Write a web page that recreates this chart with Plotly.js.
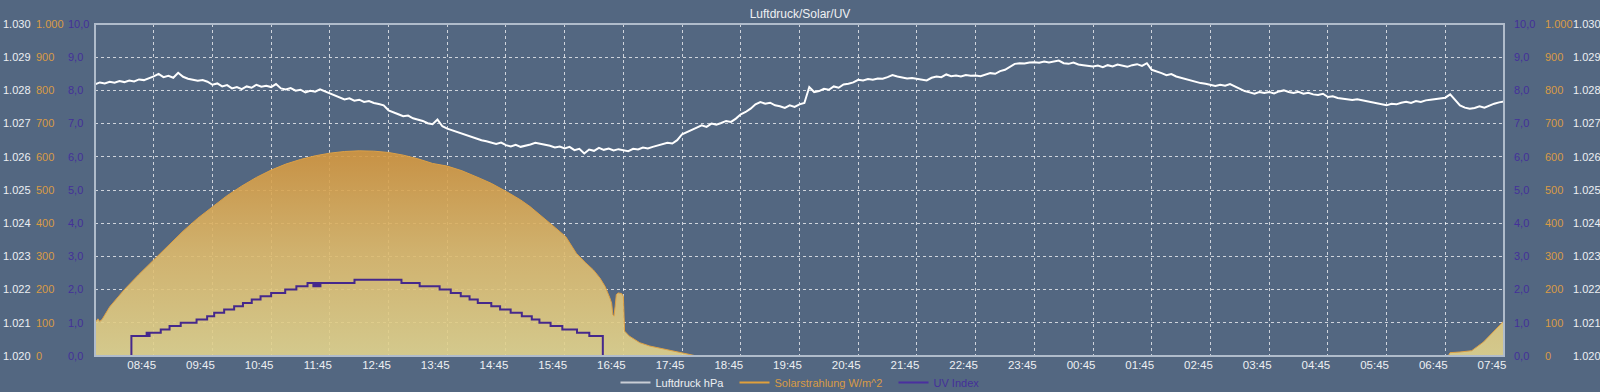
<!DOCTYPE html>
<html>
<head>
<meta charset="utf-8">
<script src="https://cdn.plot.ly/plotly-3.0.1.min.js"></script>
<style>
  html, body { margin: 0; padding: 0; background: #536781; overflow: hidden; }
  #chart { width: 1600px; height: 392px; overflow: hidden; }
</style>
</head>
<body>
<div id="chart"></div>
<script>
// ---- data ----
// x tick labels (hourly)
const xTickLabels = ['08:45','09:45','10:45','11:45','12:45','13:45','14:45','15:45','16:45','17:45','18:45','19:45',
  '20:45','21:45','22:45','23:45','00:45','01:45','02:45','03:45','04:45','05:45','06:45','07:45'];

// Luftdruck hPa, every 5 minutes from 07:45 to 07:45 next day
const pressureStartHour = 7.75;
const pressureStepMinutes = 5;
const pressure = [
1028.18,1028.24,1028.21,1028.26,1028.23,1028.28,1028.25,1028.30,1028.27,1028.33,1028.31,1028.36,
1028.42,1028.50,1028.40,1028.44,1028.38,1028.53,1028.41,1028.35,1028.33,1028.29,1028.31,1028.26,
1028.17,1028.21,1028.12,1028.16,1028.06,1028.10,1028.04,1028.12,1028.08,1028.17,1028.11,1028.14,
1028.10,1028.19,1028.06,1028.03,1028.07,1027.99,1028.02,1027.94,1027.99,1027.96,1028.03,1027.97,
1027.90,1027.84,1027.80,1027.73,1027.76,1027.69,1027.72,1027.65,1027.68,1027.62,1027.59,1027.55,
1027.40,1027.33,1027.28,1027.22,1027.24,1027.16,1027.12,1027.08,1027.01,1026.98,1027.12,1026.92,
1026.85,1026.80,1026.74,1026.69,1026.65,1026.60,1026.55,1026.50,1026.47,1026.44,1026.39,1026.43,
1026.35,1026.31,1026.36,1026.30,1026.33,1026.37,1026.42,1026.38,1026.36,1026.33,1026.28,1026.31,
1026.25,1026.30,1026.20,1026.24,1026.10,1026.22,1026.18,1026.27,1026.21,1026.25,1026.19,1026.23,
1026.20,1026.17,1026.24,1026.22,1026.28,1026.25,1026.30,1026.34,1026.38,1026.42,1026.40,1026.50,
1026.68,1026.74,1026.82,1026.88,1026.95,1026.90,1027.00,1026.97,1027.02,1027.08,1027.05,1027.15,
1027.28,1027.35,1027.45,1027.58,1027.65,1027.60,1027.63,1027.55,1027.52,1027.47,1027.55,1027.50,
1027.58,1027.62,1028.10,1027.95,1027.98,1028.05,1028.02,1028.12,1028.08,1028.18,1028.20,1028.24,
1028.32,1028.30,1028.34,1028.32,1028.36,1028.35,1028.40,1028.46,1028.42,1028.38,1028.36,1028.37,
1028.35,1028.33,1028.30,1028.38,1028.42,1028.40,1028.48,1028.43,1028.45,1028.42,1028.46,1028.44,
1028.45,1028.43,1028.48,1028.52,1028.50,1028.58,1028.62,1028.70,1028.80,1028.82,1028.81,1028.84,
1028.85,1028.83,1028.87,1028.84,1028.86,1028.90,1028.82,1028.80,1028.84,1028.78,1028.76,1028.74,
1028.72,1028.75,1028.70,1028.76,1028.72,1028.78,1028.74,1028.71,1028.76,1028.79,1028.74,1028.82,
1028.62,1028.58,1028.52,1028.46,1028.49,1028.42,1028.38,1028.33,1028.30,1028.26,1028.22,1028.20,
1028.16,1028.13,1028.17,1028.14,1028.19,1028.12,1028.03,1027.98,1027.94,1027.90,1027.95,1027.92,
1027.95,1027.91,1027.97,1028.00,1027.95,1027.92,1027.96,1027.90,1027.93,1027.88,1027.86,1027.90,
1027.80,1027.82,1027.77,1027.75,1027.73,1027.71,1027.73,1027.70,1027.68,1027.64,1027.60,1027.58,
1027.55,1027.60,1027.58,1027.63,1027.66,1027.62,1027.68,1027.65,1027.70,1027.72,1027.74,1027.77,
1027.78,1027.88,1027.70,1027.55,1027.48,1027.45,1027.47,1027.52,1027.48,1027.55,1027.60,1027.64,
1027.67];

// Solarstrahlung W/m^2 (hours since midnight of day 1)
const solarHours = [7.75,7.80,7.83,7.87,8.0,8.25,8.5,8.75,9.0,9.25,9.5,9.75,10.0,10.25,10.5,10.75,11.0,11.25,11.5,11.75,
  12.0,12.25,12.5,12.75,13.0,13.25,13.5,13.75,14.0,14.31,14.5,14.76,15.0,15.16,15.44,15.6,15.77,15.95,16.1,16.24,16.35,
  16.44,16.52,16.55,16.57,16.59,16.61,16.63,16.66,16.72,16.75,16.77,16.85,17.03,17.2,17.37,17.55,17.76,17.9,18.0,
  30.8,30.83,31.0,31.2,31.4,31.6,31.75];
const solar = [100,112,104,110,148,200,246,290,334,376,415,450,483,512,538,560,578,592,603,611,
  616,618,617,613,605,594,580,572,558,535,520,495,470,450,410,385,359,309,282,259,235,
  209,175,159,125,120,150,185,190,188,180,75,60,40,30,24,16,9,3,0,
  0,10,12,16,42,78,106];

// UV Index (step changes, hours since midnight of day 1)
const uvHours = [7.75,8.37,8.63,8.66,8.68,8.87,9.02,9.21,9.48,9.66,9.78,9.95,10.12,10.27,10.42,10.57,10.75,10.99,11.18,11.37,
  11.47,11.49,11.52,11.54,11.57,11.59,12.17,12.97,13.28,13.62,13.81,13.98,14.13,14.27,14.50,14.65,14.83,15.02,15.19,15.32,
  15.51,15.71,15.96,16.17,16.40,31.75];
const uv = [0,0.6,0.7,0.6,0.7,0.8,0.9,1.0,1.1,1.2,1.3,1.4,1.5,1.6,1.7,1.8,1.9,2.0,2.1,2.2,
  2.1,2.2,2.1,2.2,2.1,2.2,2.3,2.2,2.1,2.0,1.9,1.8,1.7,1.6,1.5,1.4,1.3,1.2,1.1,1.0,
  0.9,0.8,0.7,0.6,0,0];

// ---- helpers ----
function hToDate(h) {
  const ms = Date.UTC(2024, 5, 1) + Math.round(h * 3600000);
  return new Date(ms).toISOString().slice(0, 19).replace('T', ' ');
}
const pressureX = pressure.map((_, i) => hToDate(pressureStartHour + i * pressureStepMinutes / 60));
const solarX = solarHours.map(hToDate);
const uvX = uvHours.map(hToDate);
const tickVals = xTickLabels.map((lab, i) => hToDate(8.75 + i));

const BG = '#536781';
const FONT = "'Liberation Sans', Arial, sans-serif";
const C_P = '#eceff3';
const C_S = '#d99b45';
const C_U = '#44309a';
const GRID = 'rgba(255,255,255,0.72)';
const BORDER = '#b0bccb';

const traces = [
  { x: solarX, y: solar, yaxis: 'y2', type: 'scatter', mode: 'lines', fill: 'tozeroy',
    line: { color: '#dda045', width: 1 },
    fillgradient: { type: 'vertical', start: 0, stop: 620,
      colorscale: [[0, 'rgba(226,212,142,0.9)'], [0.5, 'rgba(222,186,108,0.9)'], [1, 'rgba(212,150,62,0.9)']] },
    showlegend: false, hoverinfo: 'skip' },
  { x: solarX, y: solar, yaxis: 'y5', type: 'scatter', mode: 'lines', opacity: 0, showlegend: false, hoverinfo: 'skip' },
  { x: uvX, y: uv, yaxis: 'y3', type: 'scatter', mode: 'lines', line: { color: '#45288c', width: 2, shape: 'hv' },
    showlegend: false, hoverinfo: 'skip' },
  { x: uvX, y: uv, yaxis: 'y6', type: 'scatter', mode: 'lines', opacity: 0, showlegend: false, hoverinfo: 'skip' },
  { x: pressureX, y: pressure, yaxis: 'y', type: 'scatter', mode: 'lines', line: { color: '#ffffff', width: 2 },
    showlegend: false, hoverinfo: 'skip' },
  { x: pressureX, y: pressure, yaxis: 'y4', type: 'scatter', mode: 'lines', opacity: 0, showlegend: false, hoverinfo: 'skip' },
  { x: [null], y: [null], yaxis: 'y', type: 'scatter', mode: 'lines', line: { color: '#c9ced6', width: 2 },
    name: '<span style="color:' + C_P + '">Luftdruck hPa</span>  ' },
  { x: [null], y: [null], yaxis: 'y', type: 'scatter', mode: 'lines', line: { color: '#e0a03c', width: 2 },
    name: '<span style="color:' + C_S + '">Solarstrahlung W/m^2</span>  ' },
  { x: [null], y: [null], yaxis: 'y', type: 'scatter', mode: 'lines', line: { color: '#4a2fa0', width: 2 },
    name: '<span style="color:' + C_U + '">UV Index</span>' }
];

function yAx(range, dtick, fmt, color, pos, extra) {
  return Object.assign({
    range: range, dtick: dtick, tick0: range[0], tickformat: fmt, autorange: false,
    side: 'right', anchor: 'free', position: pos, overlaying: 'y',
    showgrid: false, zeroline: false, showline: false, ticks: '',
    tickfont: { family: FONT, size: 11, color: color }, fixedrange: true
  }, extra || {});
}

const yaxisMain = yAx([1020, 1030], 1, ',d', C_P, 2 / 1600, {
  showgrid: true, gridcolor: GRID, griddash: 'dot', gridwidth: 1, domain: [36 / 392, 1 - 24 / 392]
});
delete yaxisMain.overlaying;

const layout = {
  autosize: false,
  width: 1600, height: 392,
  paper_bgcolor: BG, plot_bgcolor: BG,
  margin: { l: 0, r: 0, t: 0, b: 0, pad: 0, autoexpand: false },
  separators: ',.',
  font: { family: FONT, size: 11, color: C_P },
  title: { text: 'Luftdruck/Solar/UV', font: { family: FONT, size: 12, color: '#eef0f3' },
    x: 0.5, xref: 'container', y: 1 - 13.5 / 392, yref: 'container', yanchor: 'middle', xanchor: 'center',
    automargin: false },
  showlegend: true,
  legend: { orientation: 'h', x: 0.5, xref: 'container', xanchor: 'center', y: 9.5 / 392, yref: 'container',
    yanchor: 'middle', bgcolor: 'rgba(0,0,0,0)', font: { family: FONT, size: 11 }, itemwidth: 30, tracegroupgap: 0 },
  xaxis: {
    type: 'date', range: [hToDate(7.75), hToDate(31.75)], domain: [95 / 1600, 1504 / 1600],
    anchor: 'y', tickmode: 'array', tickvals: tickVals, ticktext: xTickLabels,
    showgrid: true, gridcolor: GRID, griddash: 'dot', gridwidth: 1,
    zeroline: false, showline: false, ticks: '', ticklabelshift: -12,
    tickfont: { family: FONT, size: 11.5, color: C_P }, fixedrange: true
  },
  yaxis: yaxisMain,
  yaxis2: yAx([0, 1000], 100, ',d', C_S, 35 / 1600),
  yaxis3: yAx([0, 10], 1, '.1f', C_U, 67 / 1600),
  yaxis4: yAx([1020, 1030], 1, ',d', C_P, 1572 / 1600),
  yaxis5: yAx([0, 1000], 100, ',d', C_S, 1544 / 1600),
  yaxis6: yAx([0, 10], 1, '.1f', C_U, 1513 / 1600),
  shapes: [
    { type: 'rect', xref: 'x domain', yref: 'y domain', x0: 0, x1: 1, y0: 0, y1: 1,
      line: { color: BORDER, width: 2 }, fillcolor: 'rgba(0,0,0,0)', layer: 'above' }
  ]
};

Plotly.newPlot('chart', traces, layout, { staticPlot: true, displayModeBar: false, responsive: false });
</script>
</body>
</html>
